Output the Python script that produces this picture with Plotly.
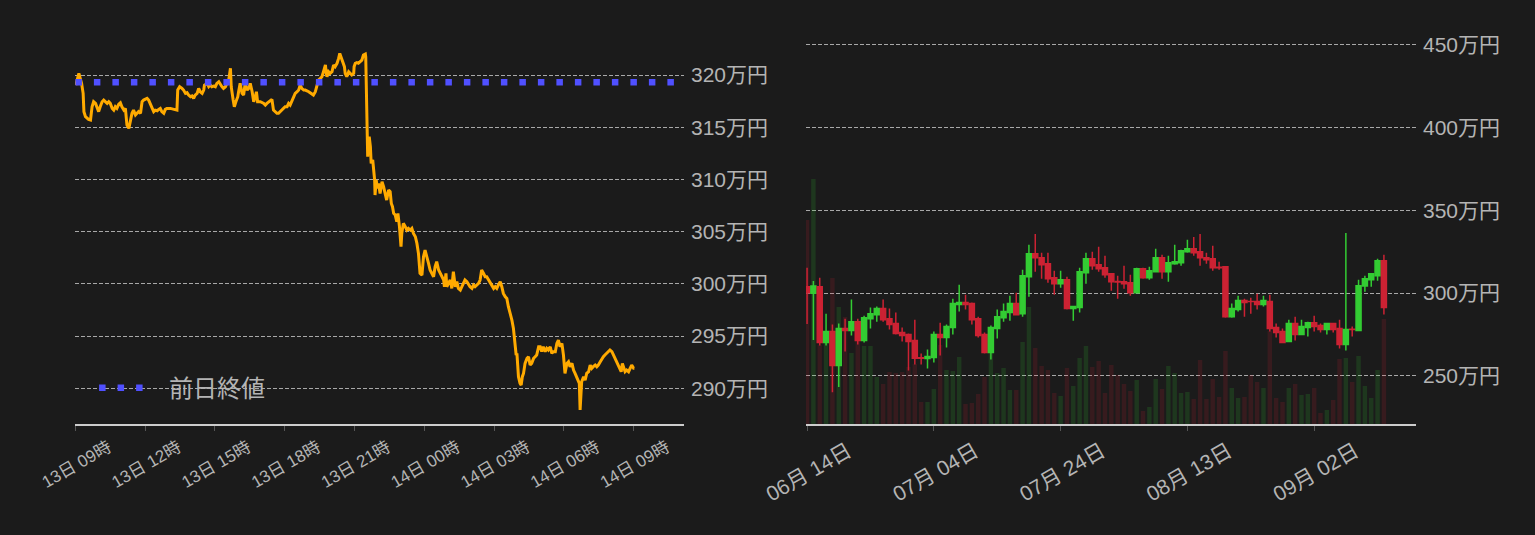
import pandas as pd
import plotly.graph_objects as go

# ---- intraday (13日 09時 -> 14日 09時), minutes from 13日 09:00 ----
intraday_min = [
    1, 9, 16, 20, 22, 26, 34, 39, 43, 47, 52, 56, 60, 64, 69, 73, 82, 86, 90, 95,
    99, 103, 107, 112, 116, 120, 125, 129, 133, 138, 142, 146, 150, 155, 159, 163, 168, 172, 176, 185,
    189, 193, 198, 202, 206, 211, 215, 219, 223, 228, 232, 236, 245, 254, 262, 264, 269, 275, 279, 284,
    288, 292, 297, 301, 305, 309, 314, 318, 322, 327, 331, 333, 340, 344, 348, 352, 357, 361, 365, 370,
    374, 378, 382, 387, 391, 395, 400, 402, 407, 410, 414, 419, 421, 425, 430, 434, 438, 443, 447, 451,
    456, 460, 464, 467, 470, 477, 486, 490, 494, 503,
    507, 511, 516, 520, 524, 529, 533, 537, 541, 546, 550, 554, 559, 563, 567, 572, 576, 580, 584, 589,
    593, 602, 610, 614, 619, 623, 627, 632, 636, 640, 645, 647, 649, 653, 657, 662, 666, 670, 675, 679,
    682, 685, 688, 692, 694, 696, 700, 705, 709, 713, 718, 719, 722, 726, 730, 735, 739, 743, 748, 749,
    751, 753, 754, 756, 758, 761, 763, 767, 769, 772, 773, 776, 779, 782, 786, 791, 795, 799, 803, 808,
    812, 815, 818, 821, 825, 829, 832, 836, 840, 842, 846, 851, 855, 859, 864, 868, 872, 877, 881, 885,
    889, 894, 898, 902, 907, 911, 915, 920, 924, 928, 932, 937, 941, 945, 950, 952, 956, 958, 962, 967,
    971, 975, 980, 984, 988, 993, 997, 1001, 1005, 1010, 1014, 1018, 1023, 1027, 1031, 1036, 1040, 1044, 1048, 1053,
    1057, 1061, 1066, 1070, 1074, 1079, 1083, 1087, 1091, 1096, 1100, 1104, 1109, 1113,
    1117, 1122, 1126, 1130, 1134, 1137, 1139, 1143, 1147, 1150, 1153, 1156, 1160, 1165, 1169, 1173, 1177, 1182, 1186, 1190,
    1195, 1199, 1203, 1207, 1212, 1216, 1220, 1225, 1229, 1233, 1238, 1242, 1246, 1250, 1255, 1259, 1263, 1268, 1272, 1276,
    1281, 1285, 1289, 1293, 1298, 1300, 1302, 1304, 1306, 1311, 1315, 1319, 1324, 1328, 1332, 1336, 1341, 1345, 1349, 1354,
    1358, 1362, 1366, 1371, 1375, 1379, 1384, 1388, 1392, 1397, 1401, 1405, 1408, 1411, 1414, 1418, 1422, 1427, 1431, 1435,
    1440, 1442,
]
intraday_price = [
    319.04, 320.16, 319.20, 318.24, 316.49, 316.01, 315.75, 315.69, 316.96, 317.44,
    317.28, 316.80, 316.49, 316.96, 317.44, 317.60, 317.28, 317.44, 317.28, 316.80,
    316.64, 316.96, 316.80, 317.22, 317.35, 316.96, 316.64, 316.80, 315.21, 314.89,
    315.69, 316.33, 316.64, 316.17, 316.33, 316.49, 316.33, 317.44, 317.60, 317.76,
    317.60, 317.28, 316.80, 316.49, 316.64, 316.58, 316.71, 316.80, 316.49, 316.33,
    316.71, 316.80, 316.80, 316.74, 316.64, 318.56, 318.88, 318.72, 318.56, 318.24,
    318.31, 318.08, 317.92, 317.99, 317.76, 318.08, 318.24, 318.72, 318.40, 318.24,
    318.56, 319.04, 319.20, 318.88, 319.04, 318.88, 318.94, 318.88, 319.20, 319.36,
    319.04, 318.88, 318.72, 318.88, 319.20, 319.36, 320.64, 318.88, 317.60, 316.96,
    317.44, 317.92, 318.40, 319.20, 318.24, 318.08, 319.20, 318.56, 318.72, 319.20,
    318.40, 317.44, 317.92, 318.40, 317.44, 317.44, 317.28, 317.12, 317.28, 317.60,
    317.67, 316.64, 316.49, 316.33, 316.33, 316.49, 316.64, 316.80, 316.96, 316.96,
    317.28, 317.12, 317.60, 317.92, 318.24, 318.40, 318.56, 319.04, 318.72, 318.56,
    318.56, 318.40, 318.24, 318.08, 318.40, 319.04, 319.52, 319.68, 319.84, 320.32,
    320.96, 320.16, 319.84, 320.32, 320.16, 320.32, 320.96, 320.80, 321.12, 321.59,
    322.07, 321.75, 321.43, 321.12, 320.80, 320.16, 319.84, 320.32, 320.16, 320.00,
    320.16, 320.80, 321.12, 321.18, 321.12, 321.27, 321.43, 321.91, 322.01, 321.75,
    318.56, 315.05, 312.17, 313.77, 314.09, 313.13, 311.54, 311.86, 311.22, 309.94,
    308.50, 309.94, 309.14, 309.62, 308.66, 309.78, 309.30, 308.50, 308.02, 308.98,
    308.82, 307.70, 307.39, 306.75, 306.59, 305.95, 306.75, 305.47, 303.55, 304.83,
    305.79, 305.47, 305.15, 305.31, 305.15, 305.31, 304.83, 304.51, 303.87, 302.91,
    301.00, 300.84, 302.60, 303.23, 302.60, 301.96, 301.32, 301.00, 300.68, 301.64,
    302.12, 301.32, 301.00, 300.68, 300.36, 299.72, 301.00, 299.72, 300.04, 300.36,
    299.56, 301.16, 299.72, 300.20, 299.56, 299.40, 299.72, 300.04, 300.36, 300.20,
    299.88, 299.72, 299.56, 299.88, 299.72, 299.88, 300.04, 300.36, 301.32, 301.00,
    300.68, 300.68, 300.36, 300.04, 299.88, 299.56, 299.72, 299.56, 299.88, 300.20,
    299.72, 299.08, 298.76, 298.60,
    297.81, 297.17, 296.53, 295.73, 294.29, 293.18, 293.34, 291.10, 290.46, 290.30,
    291.10, 291.42, 292.38, 292.86, 293.02, 292.22, 292.38, 292.86, 293.02, 293.18,
    293.97, 293.97, 293.50, 293.97, 293.50, 293.82, 293.66, 293.97, 293.34, 293.50,
    293.50, 294.29, 294.61, 293.97, 294.29, 293.18, 291.42, 292.38, 292.54, 292.06,
    292.38, 291.74, 291.42, 291.10, 290.78, 290.46, 287.91, 290.14, 290.62, 291.10,
    290.78, 291.42, 291.58, 292.22, 291.90, 292.06, 292.22, 292.06, 292.22, 292.54,
    292.86, 293.02, 293.18, 293.34, 293.50, 293.66, 293.50, 293.18, 293.02, 292.54,
    292.22, 291.90, 291.58, 292.38, 292.06, 291.58, 291.74, 291.58, 291.90, 292.22,
    291.90, 291.90,
]
prev_close = 319.3  # 前日終値
assert len(intraday_min) == len(intraday_price)

# ---- daily candles 06/14 -> 09/13 (万円) ----
first_day = "2023-06-14"
d_open = [303.8, 299.8, 303.8, 270.1, 276.7, 256.2, 278.5, 277.3, 282.7, 271.3,
          284.5, 286.9, 290.6, 284.5, 281.5, 276.1, 274.9, 271.3, 260.9, 260.4,
          261.0, 274.9, 273.1, 279.1, 293.0, 294.2, 293.6, 284.5, 274.9, 264.1,
          278.5, 285.1, 288.2, 293.6, 287.5, 309.8, 323.7, 321.3, 317.7, 309.2,
          305.6, 308.0, 290.6, 291.2, 312.3, 320.7, 317.1, 315.3, 311.6, 307.0,
          306.8, 306.2, 300.2, 314.7, 309.2, 312.9, 321.3, 312.9, 317.7, 318.3,
          324.9, 326.7, 324.9, 321.3, 320.7, 315.5, 315.9, 285.7, 290.0, 295.4,
          294.9, 294.8, 293.0, 294.8, 279.1, 276.7, 270.7, 281.5, 274.9, 279.1,
          282.1, 280.3, 277.9, 281.5, 278.5, 268.9, 278.1, 277.3, 304.2, 308.0,
          310.4, 319.5]
d_high = [315.3, 307.2, 309.2, 287.5, 280.9, 281.5, 284.5, 296.0, 284.5, 286.3,
          291.2, 291.8, 296.0, 290.6, 288.2, 279.1, 275.5, 283.9, 263.5, 265.9,
          276.7, 282.1, 280.9, 296.6, 305.0, 299.0, 294.2, 285.7, 276.1, 280.3,
          290.0, 293.6, 298.4, 300.2, 314.1, 329.1, 335.7, 324.3, 324.3, 313.5,
          313.5, 309.8, 291.8, 315.3, 324.3, 324.9, 327.9, 322.5, 311.6, 310.4,
          316.5, 311.0, 315.3, 315.3, 315.9, 326.7, 323.1, 322.5, 329.1, 326.1,
          332.1, 333.9, 335.7, 324.3, 328.5, 318.9, 315.9, 293.6, 298.4, 296.6,
          297.2, 299.6, 298.4, 299.0, 281.5, 278.5, 283.9, 285.7, 283.9, 282.7,
          286.3, 281.5, 281.5, 282.1, 283.9, 336.3, 279.7, 308.0, 310.4, 311.6,
          320.7, 323.1]
d_low = [281.3, 271.6, 268.3, 268.3, 240.0, 243.2, 264.7, 274.3, 268.9, 270.1,
         278.5, 282.7, 282.7, 277.9, 274.9, 270.7, 253.2, 256.8, 256.8, 254.4,
         258.0, 262.3, 267.1, 274.9, 288.8, 290.0, 280.9, 273.1, 263.5, 259.8,
         272.5, 282.7, 283.3, 286.9, 285.7, 297.8, 312.9, 308.6, 306.2, 299.0,
         303.2, 290.0, 283.3, 288.2, 305.6, 314.1, 312.9, 309.2, 301.4, 296.6,
         302.6, 298.4, 300.2, 308.6, 308.0, 312.9, 308.6, 306.8, 317.1, 316.5,
         324.3, 322.5, 316.5, 317.7, 313.5, 314.1, 285.1, 285.1, 288.8, 285.7,
         287.5, 290.0, 291.8, 276.7, 273.1, 270.1, 270.7, 271.3, 274.9, 273.7,
         276.7, 276.1, 274.9, 276.1, 266.5, 265.3, 273.7, 277.3, 300.8, 303.8,
         307.4, 287.0]
d_close = [300.2, 304.2, 270.1, 276.7, 256.2, 278.5, 277.3, 282.7, 271.3, 285.1,
           287.5, 290.6, 283.9, 280.9, 275.5, 274.3, 270.7, 260.6, 260.6, 261.6,
           274.9, 273.1, 279.7, 293.6, 294.2, 293.0, 283.9, 274.3, 264.1, 279.1,
           285.7, 288.8, 293.6, 286.9, 310.4, 323.7, 321.3, 317.1, 308.6, 305.6,
           308.0, 290.6, 291.8, 312.9, 320.7, 316.5, 314.7, 311.0, 306.8, 306.6,
           305.6, 300.2, 314.7, 309.2, 313.5, 321.3, 312.9, 318.3, 318.9, 325.5,
           326.7, 324.3, 321.3, 320.1, 315.3, 315.3, 285.7, 290.6, 295.4, 294.2,
           294.8, 293.0, 295.4, 278.5, 276.1, 270.1, 281.5, 274.9, 279.7, 282.1,
           279.7, 277.9, 281.5, 277.9, 268.9, 277.9, 277.9, 304.4, 308.6, 311.6,
           319.5, 291.2]
d_volume = [2040, 2450, 790, 810, 1460, 1170, 1070, 710, 840, 780,
            780, 470, 400, 520, 510, 520, 570, 600, 220, 220,
            350, 790, 540, 530, 670, 200, 210, 300, 470, 740,
            510, 560, 340, 340, 820, 1170, 760, 580, 540, 310,
            280, 560, 380, 660, 780, 570, 630, 310, 590, 490,
            400, 330, 440, 130, 170, 450, 350, 580, 510, 310,
            320, 250, 640, 250, 450, 270, 730, 360, 260, 270,
            490, 420, 360, 930, 260, 220, 360, 400, 290, 300,
            360, 110, 140, 240, 650, 660, 420, 680, 380, 260,
            540, 1050]

left_ticks = [290, 295, 300, 305, 310, 315, 320]
right_ticks = [250, 300, 350, 400, 450]

BG = "#1b1b1b"
TXT = "#b4b4b4"
GRID = "#a8a8a8"
UP = "#33cc33"
DOWN = "#cc2233"
FONT = "Liberation Sans, Noto Sans CJK JP"

t0 = pd.Timestamp("2023-09-13 09:00")
times = [t0 + pd.Timedelta(minutes=m) for m in intraday_min]
days = pd.date_range(first_day, periods=len(d_open), freq="D")

fig = go.Figure()

fig.add_trace(go.Scatter(
    x=times, y=intraday_price, mode="lines",
    line=dict(color="#ffaa00", width=3),
    xaxis="x", yaxis="y", showlegend=False, name="価格"))

fig.add_trace(go.Scatter(
    x=[t0, pd.Timestamp("2023-09-14 11:10")], y=[prev_close, prev_close],
    mode="lines", line=dict(color="#5050ff", width=6.5, dash="6.5px,12px"),
    xaxis="x", yaxis="y", showlegend=False, name="前日終値"))

# legend entry only: three dots then a long gap so the handle shows 3 squares
fig.add_trace(go.Scatter(
    x=[None], y=[None], mode="lines",
    line=dict(color="#5050ff", width=6.5, dash="6.5px,12px,6.5px,12px,6.5px,60px"),
    xaxis="x", yaxis="y", name="前日終値"))

vol_colors = ["rgba(51,204,51,0.16)" if c >= o else "rgba(204,34,51,0.16)"
              for o, c in zip(d_open, d_close)]
fig.add_trace(go.Bar(
    x=days, y=d_volume, marker=dict(color=vol_colors, line=dict(width=0)),
    width=0.7 * 86400000, xaxis="x2", yaxis="y2", showlegend=False))

fig.add_trace(go.Candlestick(
    x=days, open=d_open, high=d_high, low=d_low, close=d_close,
    increasing=dict(line=dict(color=UP, width=1.5), fillcolor=UP),
    decreasing=dict(line=dict(color=DOWN, width=1.5), fillcolor=DOWN),
    xaxis="x2", yaxis="y3", showlegend=False))

common_x = dict(showgrid=False, showline=True, linecolor="#cccccc", linewidth=2,
                ticks="outside", ticklen=5, tickcolor="#555555", automargin=False,
                tickfont=dict(color=TXT, family=FONT), zeroline=False)
common_y = dict(side="right", showgrid=True, gridcolor=GRID, gridwidth=1,
                griddash="4px,2px", zeroline=False, showline=False, ticks="",
                automargin=False,
                tickfont=dict(color=TXT, size=21, family=FONT), ticklabelstandoff=6)

fig.update_layout(
    width=1535, height=535,
    paper_bgcolor=BG, plot_bgcolor=BG,
    margin=dict(l=0, r=0, t=20, b=111),
    font=dict(family=FONT, color=TXT),
    boxgap=0.12, boxgroupgap=0.1,
    xaxis=dict(common_x, domain=[75 / 1535, 684 / 1535], anchor="y",
               range=["2023-09-13 08:59", "2023-09-14 11:10"],
               tick0="2023-09-13 09:00", dtick=3 * 3600000,
               tickformat="%d日 %H時", tickangle=-30, tickfont_size=17,
               ticklabelshift=33),
    yaxis=dict(common_y, anchor="x", range=[286.57, 325.27],
               tickvals=left_ticks, ticktext=[f"{v}万円" for v in left_ticks]),
    xaxis2=dict(common_x, domain=[806 / 1535, 1416 / 1535], anchor="y2",
                range=["2023-06-13 20:00", "2023-09-18 01:30"],
                tick0="2023-06-14", dtick=20 * 86400000,
                tickformat="%m月 %d日", tickangle=-30, tickfont_size=21,
                ticklabelshift=41, rangeslider=dict(visible=False)),
    yaxis2=dict(anchor="x2", range=[0, 4040], visible=False, showgrid=False),
    yaxis3=dict(common_y, anchor="x2", overlaying="y2", range=[220.85, 464.95],
                tickvals=right_ticks, ticktext=[f"{v}万円" for v in right_ticks]),
    legend=dict(x=0.0613, y=0.089, xanchor="left", yanchor="middle",
                bgcolor="rgba(0,0,0,0)", itemwidth=65,
                font=dict(size=24, color=TXT, family="Noto Sans CJK JP")),
    showlegend=True,
)

fig.write_html("out.html", config={"displayModeBar": False},
               post_script="document.body.style.margin='0';")
